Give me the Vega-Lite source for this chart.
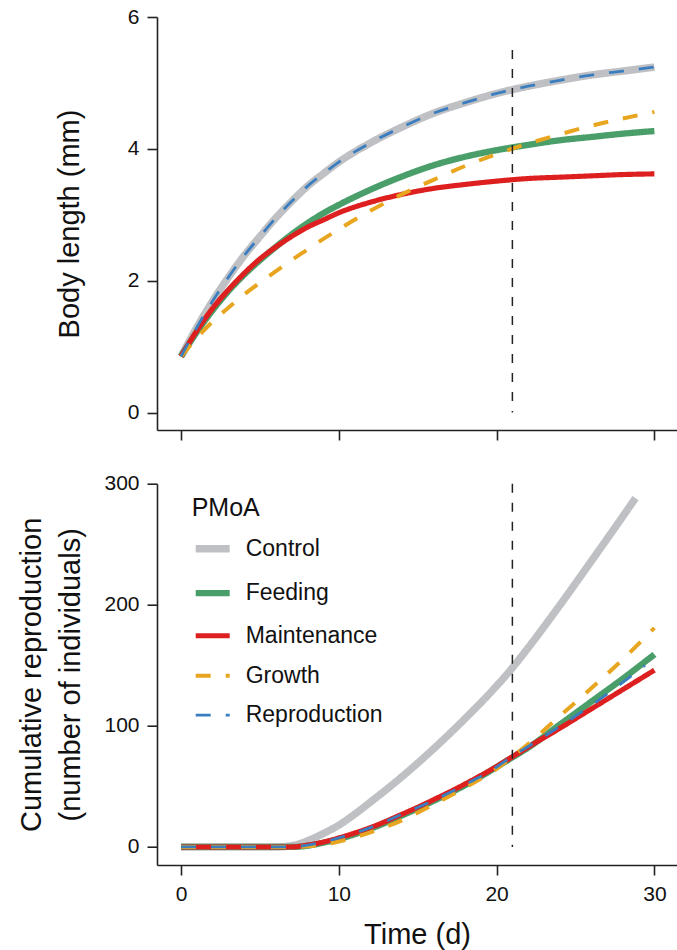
{
  "$schema": "https://vega.github.io/schema/vega-lite/v6.json",
  "padding": {"left": 17, "top": 6, "right": 0, "bottom": 0},
  "config": {
    "font": "Liberation Sans",
    "view": {"stroke": null},
    "axis": {
      "grid": false,
      "domainColor": "#222222",
      "domainWidth": 1.6,
      "tickColor": "#222222",
      "tickWidth": 1.6,
      "tickSize": 10,
      "labelFontSize": 21,
      "labelColor": "#111111",
      "labelPadding": 8,
      "titleFontSize": 29,
      "titleFontWeight": "normal",
      "titleColor": "#111111"
    },
    "legend": {"padding": 0}
  },
  "datasets": {
    "len": [
      {"t":0,"L":0.85,"PMoA":"Control"},{"t":1,"L":1.29,"PMoA":"Control"},{"t":2,"L":1.69,"PMoA":"Control"},{"t":3,"L":2.05,"PMoA":"Control"},{"t":4,"L":2.38,"PMoA":"Control"},{"t":5,"L":2.67,"PMoA":"Control"},{"t":6,"L":2.95,"PMoA":"Control"},{"t":7,"L":3.2,"PMoA":"Control"},{"t":8,"L":3.43,"PMoA":"Control"},{"t":9,"L":3.62,"PMoA":"Control"},{"t":10,"L":3.8,"PMoA":"Control"},{"t":12,"L":4.09,"PMoA":"Control"},{"t":14,"L":4.33,"PMoA":"Control"},{"t":16,"L":4.54,"PMoA":"Control"},{"t":18,"L":4.7,"PMoA":"Control"},{"t":20,"L":4.84,"PMoA":"Control"},{"t":22,"L":4.95,"PMoA":"Control"},{"t":24,"L":5.04,"PMoA":"Control"},{"t":26,"L":5.12,"PMoA":"Control"},{"t":28,"L":5.18,"PMoA":"Control"},{"t":30,"L":5.24,"PMoA":"Control"},
      {"t":0,"L":0.85,"PMoA":"Feeding"},{"t":1,"L":1.22,"PMoA":"Feeding"},{"t":2,"L":1.55,"PMoA":"Feeding"},{"t":3,"L":1.84,"PMoA":"Feeding"},{"t":4,"L":2.09,"PMoA":"Feeding"},{"t":5,"L":2.31,"PMoA":"Feeding"},{"t":6,"L":2.51,"PMoA":"Feeding"},{"t":7,"L":2.7,"PMoA":"Feeding"},{"t":8,"L":2.87,"PMoA":"Feeding"},{"t":9,"L":3.02,"PMoA":"Feeding"},{"t":10,"L":3.15,"PMoA":"Feeding"},{"t":12,"L":3.38,"PMoA":"Feeding"},{"t":14,"L":3.58,"PMoA":"Feeding"},{"t":16,"L":3.75,"PMoA":"Feeding"},{"t":18,"L":3.88,"PMoA":"Feeding"},{"t":20,"L":3.98,"PMoA":"Feeding"},{"t":22,"L":4.06,"PMoA":"Feeding"},{"t":24,"L":4.13,"PMoA":"Feeding"},{"t":26,"L":4.18,"PMoA":"Feeding"},{"t":28,"L":4.23,"PMoA":"Feeding"},{"t":30,"L":4.27,"PMoA":"Feeding"},
      {"t":0,"L":0.85,"PMoA":"Maintenance"},{"t":1,"L":1.24,"PMoA":"Maintenance"},{"t":2,"L":1.58,"PMoA":"Maintenance"},{"t":3,"L":1.86,"PMoA":"Maintenance"},{"t":4,"L":2.11,"PMoA":"Maintenance"},{"t":5,"L":2.33,"PMoA":"Maintenance"},{"t":6,"L":2.51,"PMoA":"Maintenance"},{"t":7,"L":2.67,"PMoA":"Maintenance"},{"t":8,"L":2.81,"PMoA":"Maintenance"},{"t":9,"L":2.92,"PMoA":"Maintenance"},{"t":10,"L":3.03,"PMoA":"Maintenance"},{"t":12,"L":3.19,"PMoA":"Maintenance"},{"t":14,"L":3.31,"PMoA":"Maintenance"},{"t":16,"L":3.4,"PMoA":"Maintenance"},{"t":18,"L":3.46,"PMoA":"Maintenance"},{"t":20,"L":3.51,"PMoA":"Maintenance"},{"t":22,"L":3.55,"PMoA":"Maintenance"},{"t":24,"L":3.57,"PMoA":"Maintenance"},{"t":26,"L":3.59,"PMoA":"Maintenance"},{"t":28,"L":3.61,"PMoA":"Maintenance"},{"t":30,"L":3.62,"PMoA":"Maintenance"},
      {"t":0,"L":0.85,"PMoA":"Growth"},{"t":1,"L":1.13,"PMoA":"Growth"},{"t":2,"L":1.38,"PMoA":"Growth"},{"t":3,"L":1.59,"PMoA":"Growth"},{"t":4,"L":1.79,"PMoA":"Growth"},{"t":5,"L":1.97,"PMoA":"Growth"},{"t":6,"L":2.14,"PMoA":"Growth"},{"t":7,"L":2.31,"PMoA":"Growth"},{"t":8,"L":2.47,"PMoA":"Growth"},{"t":9,"L":2.63,"PMoA":"Growth"},{"t":10,"L":2.78,"PMoA":"Growth"},{"t":12,"L":3.06,"PMoA":"Growth"},{"t":14,"L":3.31,"PMoA":"Growth"},{"t":16,"L":3.53,"PMoA":"Growth"},{"t":18,"L":3.74,"PMoA":"Growth"},{"t":20,"L":3.92,"PMoA":"Growth"},{"t":22,"L":4.08,"PMoA":"Growth"},{"t":24,"L":4.22,"PMoA":"Growth"},{"t":26,"L":4.35,"PMoA":"Growth"},{"t":28,"L":4.46,"PMoA":"Growth"},{"t":30,"L":4.56,"PMoA":"Growth"},
      {"t":0,"L":0.85,"PMoA":"Reproduction"},{"t":1,"L":1.29,"PMoA":"Reproduction"},{"t":2,"L":1.69,"PMoA":"Reproduction"},{"t":3,"L":2.05,"PMoA":"Reproduction"},{"t":4,"L":2.38,"PMoA":"Reproduction"},{"t":5,"L":2.67,"PMoA":"Reproduction"},{"t":6,"L":2.95,"PMoA":"Reproduction"},{"t":7,"L":3.2,"PMoA":"Reproduction"},{"t":8,"L":3.43,"PMoA":"Reproduction"},{"t":9,"L":3.62,"PMoA":"Reproduction"},{"t":10,"L":3.8,"PMoA":"Reproduction"},{"t":12,"L":4.09,"PMoA":"Reproduction"},{"t":14,"L":4.33,"PMoA":"Reproduction"},{"t":16,"L":4.54,"PMoA":"Reproduction"},{"t":18,"L":4.7,"PMoA":"Reproduction"},{"t":20,"L":4.84,"PMoA":"Reproduction"},{"t":22,"L":4.95,"PMoA":"Reproduction"},{"t":24,"L":5.04,"PMoA":"Reproduction"},{"t":26,"L":5.12,"PMoA":"Reproduction"},{"t":28,"L":5.18,"PMoA":"Reproduction"},{"t":30,"L":5.24,"PMoA":"Reproduction"}
    ],
    "repro": [
      {"t":0,"R":0,"PMoA":"Control"},{"t":2,"R":0,"PMoA":"Control"},{"t":4,"R":0,"PMoA":"Control"},{"t":6,"R":0,"PMoA":"Control"},{"t":7,"R":1,"PMoA":"Control"},{"t":8,"R":5,"PMoA":"Control"},{"t":9,"R":11,"PMoA":"Control"},{"t":10,"R":18,"PMoA":"Control"},{"t":11,"R":27,"PMoA":"Control"},{"t":12,"R":37,"PMoA":"Control"},{"t":14,"R":58,"PMoA":"Control"},{"t":16,"R":81,"PMoA":"Control"},{"t":18,"R":106,"PMoA":"Control"},{"t":20,"R":133,"PMoA":"Control"},{"t":21,"R":148,"PMoA":"Control"},{"t":22,"R":164.5,"PMoA":"Control"},{"t":24,"R":199.5,"PMoA":"Control"},{"t":26,"R":236,"PMoA":"Control"},{"t":28,"R":273,"PMoA":"Control"},{"t":28.8,"R":288,"PMoA":"Control"},
      {"t":0,"R":0,"PMoA":"Feeding"},{"t":2,"R":0,"PMoA":"Feeding"},{"t":4,"R":0,"PMoA":"Feeding"},{"t":6,"R":0,"PMoA":"Feeding"},{"t":7,"R":0,"PMoA":"Feeding"},{"t":8,"R":1,"PMoA":"Feeding"},{"t":9,"R":3.5,"PMoA":"Feeding"},{"t":10,"R":6.5,"PMoA":"Feeding"},{"t":11,"R":10.5,"PMoA":"Feeding"},{"t":12,"R":15,"PMoA":"Feeding"},{"t":14,"R":26,"PMoA":"Feeding"},{"t":16,"R":38,"PMoA":"Feeding"},{"t":18,"R":51,"PMoA":"Feeding"},{"t":20,"R":66,"PMoA":"Feeding"},{"t":21,"R":74,"PMoA":"Feeding"},{"t":22,"R":82,"PMoA":"Feeding"},{"t":24,"R":101,"PMoA":"Feeding"},{"t":26,"R":120,"PMoA":"Feeding"},{"t":28,"R":139,"PMoA":"Feeding"},{"t":30,"R":159,"PMoA":"Feeding"},
      {"t":0,"R":0,"PMoA":"Maintenance"},{"t":2,"R":0,"PMoA":"Maintenance"},{"t":4,"R":0,"PMoA":"Maintenance"},{"t":6,"R":0,"PMoA":"Maintenance"},{"t":7,"R":0,"PMoA":"Maintenance"},{"t":8,"R":1.5,"PMoA":"Maintenance"},{"t":9,"R":4,"PMoA":"Maintenance"},{"t":10,"R":7.5,"PMoA":"Maintenance"},{"t":11,"R":11.5,"PMoA":"Maintenance"},{"t":12,"R":16,"PMoA":"Maintenance"},{"t":14,"R":27,"PMoA":"Maintenance"},{"t":16,"R":39,"PMoA":"Maintenance"},{"t":18,"R":52,"PMoA":"Maintenance"},{"t":20,"R":66.5,"PMoA":"Maintenance"},{"t":21,"R":74.5,"PMoA":"Maintenance"},{"t":22,"R":82.5,"PMoA":"Maintenance"},{"t":24,"R":98,"PMoA":"Maintenance"},{"t":26,"R":114,"PMoA":"Maintenance"},{"t":28,"R":130,"PMoA":"Maintenance"},{"t":30,"R":146,"PMoA":"Maintenance"},
      {"t":0,"R":0,"PMoA":"Growth"},{"t":2,"R":0,"PMoA":"Growth"},{"t":4,"R":0,"PMoA":"Growth"},{"t":6,"R":0,"PMoA":"Growth"},{"t":7,"R":0,"PMoA":"Growth"},{"t":8,"R":0.5,"PMoA":"Growth"},{"t":9,"R":2,"PMoA":"Growth"},{"t":10,"R":4.5,"PMoA":"Growth"},{"t":11,"R":8,"PMoA":"Growth"},{"t":12,"R":12,"PMoA":"Growth"},{"t":14,"R":22,"PMoA":"Growth"},{"t":16,"R":35,"PMoA":"Growth"},{"t":18,"R":49,"PMoA":"Growth"},{"t":20,"R":64.5,"PMoA":"Growth"},{"t":21,"R":74.5,"PMoA":"Growth"},{"t":22,"R":85,"PMoA":"Growth"},{"t":24,"R":108,"PMoA":"Growth"},{"t":26,"R":131,"PMoA":"Growth"},{"t":28,"R":155,"PMoA":"Growth"},{"t":30,"R":181,"PMoA":"Growth"},
      {"t":0,"R":0,"PMoA":"Reproduction"},{"t":2,"R":0,"PMoA":"Reproduction"},{"t":4,"R":0,"PMoA":"Reproduction"},{"t":6,"R":0,"PMoA":"Reproduction"},{"t":7,"R":0,"PMoA":"Reproduction"},{"t":8,"R":1.5,"PMoA":"Reproduction"},{"t":9,"R":4,"PMoA":"Reproduction"},{"t":10,"R":7.5,"PMoA":"Reproduction"},{"t":11,"R":11.5,"PMoA":"Reproduction"},{"t":12,"R":16,"PMoA":"Reproduction"},{"t":14,"R":27,"PMoA":"Reproduction"},{"t":16,"R":38.5,"PMoA":"Reproduction"},{"t":18,"R":51.5,"PMoA":"Reproduction"},{"t":20,"R":66,"PMoA":"Reproduction"},{"t":21,"R":75,"PMoA":"Reproduction"},{"t":22,"R":83,"PMoA":"Reproduction"},{"t":24,"R":99.5,"PMoA":"Reproduction"},{"t":26,"R":117,"PMoA":"Reproduction"},{"t":28,"R":136,"PMoA":"Reproduction"},{"t":29.4,"R":150,"PMoA":"Reproduction"}
    ]
  },
  "spacing": 53.7,
  "bounds": "flush",
  "resolve": {
    "scale": {"color": "independent", "strokeDash": "independent", "strokeWidth": "independent"},
    "legend": {"color": "independent", "strokeDash": "independent", "strokeWidth": "independent"}
  },
  "vconcat": [
    {
      "width": 520,
      "height": 413,
      "layer": [
        {
          "data": {"name": "len"},
          "mark": {"type": "line", "interpolate": "monotone"},
          "encoding": {
            "x": {"field": "t", "type": "quantitative",
                  "scale": {"domain": [-1.521, 31.432], "nice": false, "zero": false},
                  "axis": {"values": [0, 10, 20, 30], "labels": false, "title": null}},
            "y": {"field": "L", "type": "quantitative",
                  "scale": {"domain": [-0.265, 6], "nice": false, "zero": false},
                  "axis": {"values": [0, 2, 4, 6], "format": "d", "title": "Body length (mm)", "titleX": -79, "titleBaseline": "alphabetic"}},
            "color": {"field": "PMoA", "type": "nominal",
                      "scale": {"domain": ["Control", "Feeding", "Maintenance", "Growth", "Reproduction"],
                                "range": ["#bfc0c4", "#4a9e6a", "#dd1f1f", "#e8a520", "#3b7ec0"]},
                      "legend": null},
            "strokeDash": {"field": "PMoA", "type": "nominal",
                           "scale": {"domain": ["Control", "Feeding", "Maintenance", "Growth", "Reproduction"],
                                     "range": [[1, 0], [1, 0], [1, 0], [15, 15], [15, 15]]},
                           "legend": null},
            "strokeWidth": {"field": "PMoA", "type": "nominal",
                            "scale": {"domain": ["Control", "Feeding", "Maintenance", "Growth", "Reproduction"],
                                      "range": [7.5, 2.8, 2.8, 2.8, 2.8]},
                            "legend": null}
          }
        },
        {
          "data": {"values": [{"t": 21, "from": 0, "to": 5.5}]},
          "mark": {"type": "rule", "color": "#222222", "strokeWidth": 1.5, "strokeDash": [9, 10]},
          "encoding": {
            "x": {"field": "t", "type": "quantitative"},
            "y": {"field": "to", "type": "quantitative"},
            "y2": {"field": "from"}
          }
        }
      ]
    },
    {
      "width": 520,
      "height": 381.3,
      "layer": [
        {
          "data": {"name": "repro"},
          "mark": {"type": "line", "interpolate": "monotone"},
          "encoding": {
            "x": {"field": "t", "type": "quantitative",
                  "scale": {"domain": [-1.521, 31.432], "nice": false, "zero": false},
                  "axis": {"values": [0, 10, 20, 30], "title": "Time (d)", "titleBaseline": "alphabetic", "titleY": 78.3}},
            "y": {"field": "R", "type": "quantitative",
                  "scale": {"domain": [-14.9, 300], "nice": false, "zero": false},
                  "axis": {"values": [0, 100, 200, 300], "format": "d", "title": ["Cumulative reproduction", "(number of individuals)"],
                           "titleX": -117, "titleBaseline": "alphabetic", "titleLineHeight": 39.3}},
            "color": {"field": "PMoA", "type": "nominal",
                      "scale": {"domain": ["Control", "Feeding", "Maintenance", "Growth", "Reproduction"],
                                "range": ["#bfc0c4", "#4a9e6a", "#dd1f1f", "#e8a520", "#3b7ec0"]},
                      "legend": {"orient": "none", "legendX": 34.7, "legendY": 12.5, "title": "PMoA",
                                 "titleFontSize": 25, "titleFontWeight": "normal", "titleColor": "#111111", "titlePadding": 6.5,
                                 "labelFontSize": 23, "labelColor": "#111111", "labelOffset": 12,
                                 "symbolType": "stroke", "symbolSize": 1156, "rowPadding": 9,
                                 "encode": {"entries": {"width": {"value": 42}, "height": {"value": 42},
                                                        "stroke": {"value": "#d3d3d6"}, "strokeWidth": {"value": 2}}}}},
            "strokeDash": {"field": "PMoA", "type": "nominal",
                           "scale": {"domain": ["Control", "Feeding", "Maintenance", "Growth", "Reproduction"],
                                     "range": [[1, 0], [1, 0], [1, 0], [15, 15], [15, 15]]},
                           "legend": {"orient": "none", "legendX": 34.7, "legendY": 12.5, "title": "PMoA",
                                      "titleFontSize": 25, "titleFontWeight": "normal", "titleColor": "#111111", "titlePadding": 6.5,
                                      "labelFontSize": 23, "labelColor": "#111111", "labelOffset": 12,
                                      "symbolType": "stroke", "symbolSize": 1156, "rowPadding": 9,
                                      "encode": {"entries": {"width": {"value": 42}, "height": {"value": 42},
                                                             "stroke": {"value": "#d3d3d6"}, "strokeWidth": {"value": 2}}}}},
            "strokeWidth": {"field": "PMoA", "type": "nominal",
                            "scale": {"domain": ["Control", "Feeding", "Maintenance", "Growth", "Reproduction"],
                                      "range": [7.5, 2.8, 2.8, 2.8, 2.8]},
                            "legend": {"orient": "none", "legendX": 34.7, "legendY": 12.5, "title": "PMoA",
                                       "titleFontSize": 25, "titleFontWeight": "normal", "titleColor": "#111111", "titlePadding": 6.5,
                                       "labelFontSize": 23, "labelColor": "#111111", "labelOffset": 12,
                                       "symbolType": "stroke", "symbolSize": 1156, "rowPadding": 9,
                                       "encode": {"entries": {"width": {"value": 42}, "height": {"value": 42},
                                                              "stroke": {"value": "#d3d3d6"}, "strokeWidth": {"value": 2}}}}}
          }
        },
        {
          "data": {"values": [{"t": 21, "from": 0, "to": 300}]},
          "mark": {"type": "rule", "color": "#222222", "strokeWidth": 1.5, "strokeDash": [9, 10]},
          "encoding": {
            "x": {"field": "t", "type": "quantitative"},
            "y": {"field": "to", "type": "quantitative"},
            "y2": {"field": "from"}
          }
        }
      ]
    }
  ]
}
